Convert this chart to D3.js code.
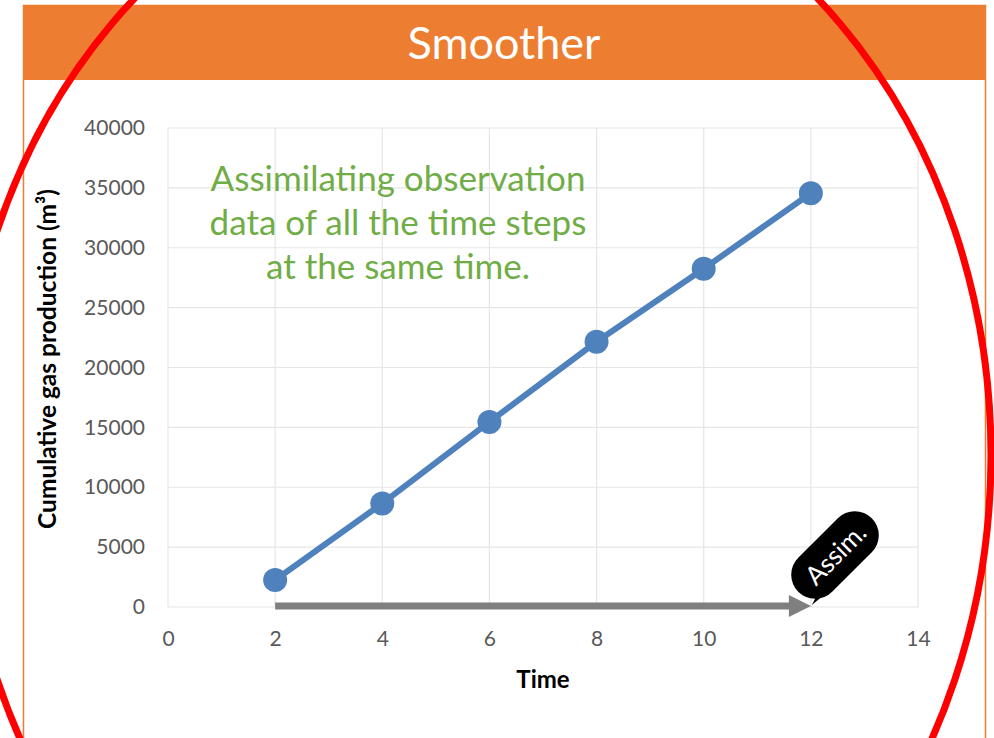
<!DOCTYPE html>
<html>
<head>
<meta charset="utf-8">
<script src="https://cdn.jsdelivr.net/npm/d3@7"></script>
<style>
  html, body { margin: 0; padding: 0; background: #fff; }
  svg { display: block; }
  text { font-family: Lato, "Open Sans", sans-serif; }
</style>
</head>
<body>
<svg id="chart" width="994" height="738"></svg>
<script>
// données
const timeSteps = [2, 4, 6, 8, 10, 12];
const gasProduction = [2250, 8650, 15450, 22150, 28250, 34550];
const xTicks = [0, 2, 4, 6, 8, 10, 12, 14];
const yTicks = [0, 5000, 10000, 15000, 20000, 25000, 30000, 35000, 40000];
const titleText = "Smoother";
const yTitle = "Cumulative gas production (m³)";
const xTitle = "Time";
const noteLines = ["Assimilating observation", "data of all the time steps", "at the same time."];
const arrowSpan = [2, 12];
const calloutText = "Assim.";

const svg = d3.select("#chart");
const width = +svg.attr("width");
const height = +svg.attr("height");

const x = d3.scaleLinear().domain([0, 14]).range([168, 918]);
const y = d3.scaleLinear().domain([0, 40000]).range([607, 128]);

// cadre orange + bandeau titre
svg.append("rect")
  .attr("x", 23.5).attr("y", 5.5)
  .attr("width", 962).attr("height", height + 20)
  .attr("fill", "#fff").attr("stroke", "#ed7d31").attr("stroke-width", 1.5);

svg.append("rect")
  .attr("x", 23).attr("y", 5)
  .attr("width", 963).attr("height", 75)
  .attr("fill", "#ed7d31");

svg.append("text")
  .attr("x", 504).attr("y", 59)
  .attr("text-anchor", "middle")
  .attr("font-size", 45)
  .attr("fill", "#fff")
  .text(titleText);

// grille
const grid = svg.append("g");
grid.selectAll("line.h")
  .data(yTicks)
  .enter().append("line")
  .attr("x1", x(0)).attr("x2", x(14))
  .attr("y1", d => y(d)).attr("y2", d => y(d))
  .attr("stroke", "#e6e6e6").attr("stroke-width", 1.2);
grid.selectAll("line.v")
  .data(xTicks)
  .enter().append("line")
  .attr("y1", y(0)).attr("y2", y(40000))
  .attr("x1", d => x(d)).attr("x2", d => x(d))
  .attr("stroke", "#e6e6e6").attr("stroke-width", 1.2);

// axes (on garde seulement les labels)
const xAxis = svg.append("g")
  .attr("transform", `translate(0,${y(0)})`)
  .call(d3.axisBottom(x).tickValues(xTicks).tickSize(0).tickPadding(24));
const yAxis = svg.append("g")
  .attr("transform", `translate(${x(0)},0)`)
  .call(d3.axisLeft(y).tickValues(yTicks).tickSize(0).tickPadding(23).tickFormat(d3.format("d")));
[xAxis, yAxis].forEach(a => {
  a.select(".domain").remove();
  a.selectAll("text")
    .attr("font-family", "Lato, 'Open Sans', sans-serif")
    .attr("font-size", 21)
    .attr("fill", "#595959");
});

// titres des axes
svg.append("text")
  .attr("transform", "translate(56,359) rotate(-90)")
  .attr("text-anchor", "middle")
  .attr("font-size", 24.5)
  .attr("font-weight", "bold")
  .attr("fill", "#000")
  .text(yTitle);

svg.append("text")
  .attr("x", 543).attr("y", 688)
  .attr("text-anchor", "middle")
  .attr("font-size", 24)
  .attr("font-weight", "bold")
  .attr("fill", "#000")
  .text(xTitle);

// flèche grise
svg.append("line")
  .attr("x1", x(arrowSpan[0])).attr("x2", x(arrowSpan[1]) - 18)
  .attr("y1", y(0) - 1).attr("y2", y(0) - 1)
  .attr("stroke", "#7f7f7f").attr("stroke-width", 7);
svg.append("path")
  .attr("d", `M${x(arrowSpan[1])},${y(0) - 1} L${x(arrowSpan[1]) - 22},${y(0) - 12} L${x(arrowSpan[1]) - 22},${y(0) + 10} Z`)
  .attr("fill", "#7f7f7f");

// série
const pts = timeSteps.map((t, i) => [t, gasProduction[i]]);
svg.append("path")
  .datum(pts)
  .attr("fill", "none")
  .attr("stroke", "#4f81bd")
  .attr("stroke-width", 6)
  .attr("d", d3.line().x(d => x(d[0])).y(d => y(d[1])));
svg.selectAll("circle.pt")
  .data(pts)
  .enter().append("circle")
  .attr("cx", d => x(d[0]))
  .attr("cy", d => y(d[1]))
  .attr("r", 12)
  .attr("fill", "#4f81bd");

// texte vert
svg.append("text")
  .attr("text-anchor", "middle")
  .attr("font-size", 35)
  .attr("fill", "#70ad47")
  .selectAll("tspan")
  .data(noteLines)
  .enter().append("tspan")
  .attr("x", 398)
  .attr("y", (d, i) => 191 + i * 44)
  .text(d => d);

// bulle "Assim."
const cx = 835, cy = 555;
const tip = [x(arrowSpan[1]) + 1, y(0) - 2];
const a = Math.PI / 4;
const dx = tip[0] - cx, dy = tip[1] - cy;
const lx = dx * Math.cos(a) - dy * Math.sin(a);
const ly = dx * Math.sin(a) + dy * Math.cos(a);
const bubble = svg.append("g").attr("transform", `translate(${cx},${cy}) rotate(-45)`);
bubble.append("rect")
  .attr("x", -52).attr("y", -24)
  .attr("width", 104).attr("height", 48)
  .attr("rx", 24)
  .attr("fill", "#000");
bubble.append("path")
  .attr("d", `M-36,14 L-20,22 L${lx},${ly} Z`)
  .attr("fill", "#000");
bubble.append("text")
  .attr("x", 1).attr("y", 9)
  .attr("text-anchor", "middle")
  .attr("font-size", 26)
  .attr("fill", "#fff")
  .text(calloutText);

// ellipse rouge
svg.append("ellipse")
  .attr("cx", 476).attr("cy", 455)
  .attr("rx", 515).attr("ry", 610)
  .attr("fill", "none")
  .attr("stroke", "#ff0000")
  .attr("stroke-width", 7);
</script>
</body>
</html>
